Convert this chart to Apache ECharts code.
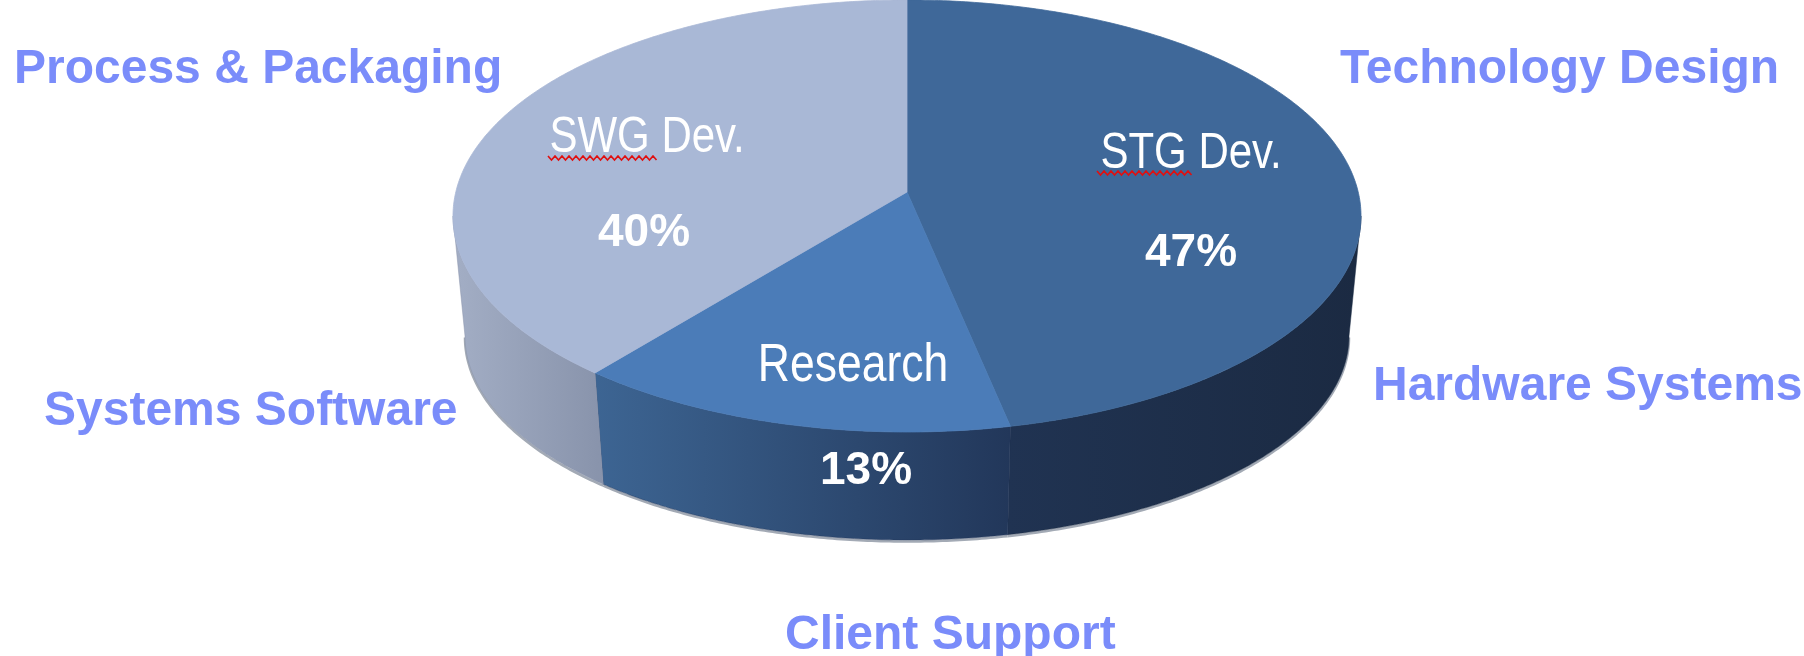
<!DOCTYPE html>
<html><head><meta charset="utf-8">
<script src="https://cdn.jsdelivr.net/npm/echarts@6/dist/echarts.min.js"></script>
<style>html,body{margin:0;padding:0;background:#fff}#c{width:1804px;height:656px}</style>
</head><body><div id="c"></div>
<script>
// ---- data ----
const categories = ['STG Dev.', 'Research', 'SWG Dev.'];
const shares = [47, 13, 40];
const outerLabels = ['Process & Packaging', 'Technology Design', 'Systems Software', 'Hardware Systems', 'Client Support'];

// ---- styles / layout ----
const topColors = ['#3f6899', '#4b7cb8', '#a9b8d6'];
const sideColors = [['#203352', '#1b2a42'], ['#3d6593', '#22375a'], ['#a3aec5', '#8893ab']];
const TOP = { cx: 907, cy: 216, rx: 454, ry: 216 };      // top face ellipse
const BOT = { cx: 907, cy: 336, rx: 442, ry: 204 };      // bottom rim (slightly smaller: perspective)
const APEX = -24;
const PERSPECTIVE = 0.22; // front of the disc looks wider than the back
const labelLayout = [
  { name: [1191, 154, 50], pct: [1191, 253] },
  { name: [853, 366, 53], pct: [866, 471] },
  { name: [647, 138, 50], pct: [644, 233] }
];
const outerLayout = [
  { x: 14, y: 70 },
  { x: 1340, y: 70 },
  { x: 44, y: 412 },
  { x: 1373, y: 387 },
  { x: 785, y: 636 }
];

const total = shares.reduce((a, b) => a + b, 0);
let acc = 0;
const seriesData = shares.map((v, i) => { const s = acc; acc += v; return { name: categories[i], value: [v, s] }; });

// true pie angle (0 = top, clockwise) -> drawn ellipse angle with a mild perspective warp
function ang(p) {
  const theta = -Math.PI / 2 + p / total * 2 * Math.PI;
  const phi = theta - Math.PI / 2;
  return Math.PI / 2 + phi + PERSPECTIVE * Math.sin(phi);
}
function pt(E, t, dy) { return [E.cx + E.rx * Math.cos(t), E.cy + E.ry * Math.sin(t) + (dy || 0)]; }
function arc(E, a0, a1, dy) {
  const n = Math.max(2, Math.ceil(Math.abs(a1 - a0) / 0.01));
  const out = [];
  for (let k = 0; k <= n; k++) out.push(pt(E, a0 + (a1 - a0) * k / n, dy));
  return out;
}

function renderItem(params, api) {
  const i = params.dataIndex;
  const v = api.value(0), s = api.value(1);
  const a0 = ang(s), a1 = ang(s + v);
  const children = [];
  const lo = Math.max(a0, 0), hi = Math.min(a1, Math.PI);
  if (hi > lo) {
    children.push({
      type: 'polyline', z2: 0, shape: { points: arc(BOT, lo, hi, 1.5) },
      style: { stroke: '#a3aab5', lineWidth: 2.5, fill: null }
    });
    const pts = arc(TOP, lo, hi, 0).concat(arc(BOT, hi, lo, 0));
    children.push({
      type: 'polygon', z2: 1, shape: { points: pts },
      style: {
        fill: new echarts.graphic.LinearGradient(0, 0, 1, 0, [
          { offset: 0, color: sideColors[i][0] }, { offset: 1, color: sideColors[i][1] }]),
        stroke: sideColors[i][1], lineWidth: 0.5
      }
    });
  }
  const topPts = [[TOP.cx, TOP.cy + APEX]].concat(arc(TOP, a0, a1, 0));
  children.push({
    type: 'polygon', z2: 2, shape: { points: topPts },
    style: { fill: topColors[i], stroke: topColors[i], lineWidth: 0.8 }
  });
  const L = labelLayout[i];
  children.push({
    type: 'text', z2: 20, x: L.name[0], y: L.name[1], scaleX: 0.84,
    style: {
      text: categories[i], x: 0, y: 0, fill: '#ffffff', align: 'center', verticalAlign: 'middle',
      font: L.name[2] + 'px "Liberation Sans", Arial, sans-serif'
    }
  });
  children.push({
    type: 'text', z2: 20, x: L.pct[0], y: L.pct[1],
    style: {
      text: v + '%', x: 0, y: 0, fill: '#ffffff', align: 'center', verticalAlign: 'middle',
      font: 'bold 46px "Liberation Sans", Arial, sans-serif'
    }
  });
  return { type: 'group', children };
}

function squiggle(x0, x1, y) {
  const p = [];
  let up = true;
  for (let x = x0; x <= x1; x += 3.5) { p.push([x, up ? y - 2 : y + 2]); up = !up; }
  return p;
}

const graphics = outerLabels.map((t, i) => ({
  type: 'text', x: outerLayout[i].x, y: outerLayout[i].y, z: 10,
  style: {
    text: t, fill: '#7a8cfa', align: 'left', verticalAlign: 'middle',
    font: 'bold 48px "Liberation Sans", Arial, sans-serif'
  }
}));
graphics.push({ type: 'polyline', z: 20, shape: { points: squiggle(548, 657, 158) }, style: { stroke: '#e01010', lineWidth: 1.6, fill: null } });
graphics.push({ type: 'polyline', z: 20, shape: { points: squiggle(1097, 1192, 173) }, style: { stroke: '#e01010', lineWidth: 1.6, fill: null } });

const chart = echarts.init(document.getElementById('c'), null, { renderer: 'canvas' });
chart.setOption({
  backgroundColor: '#ffffff',
  animation: false,
  series: [{ type: 'custom', coordinateSystem: 'none', renderItem, data: seriesData }],
  graphic: graphics
});
</script></body></html>
